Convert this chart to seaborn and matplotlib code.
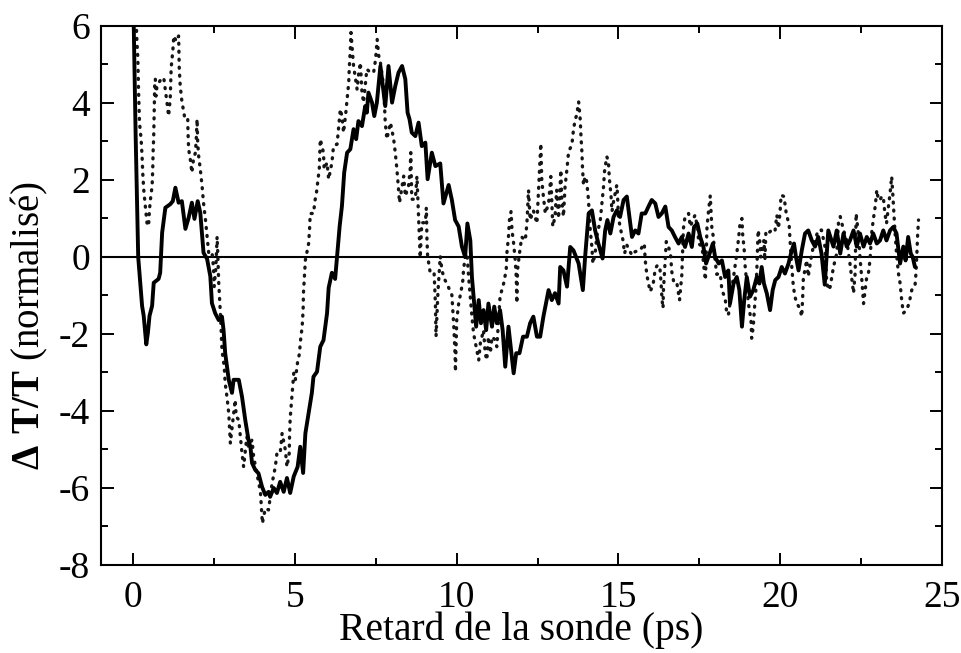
import matplotlib
matplotlib.use("Agg")
import matplotlib.pyplot as plt
import numpy as np
import pandas as pd
import seaborn as sns
from matplotlib.ticker import MultipleLocator

# Pump-probe transmission change, solid trace (delay in ps, normalised dT/T)
solid_t = [0.00, 0.07, 0.15, 0.27, 0.32, 0.40, 0.45, 0.50, 0.58, 0.63, 0.78, 0.83, 0.89, 0.99,
           1.14, 1.22, 1.30, 1.40, 1.50, 1.61, 1.71, 1.81, 1.89, 1.99, 2.07, 2.17, 2.28, 2.38,
           2.43, 2.53, 2.64, 2.74, 2.79, 2.84, 2.95, 3.05, 3.10, 3.26, 3.36, 3.46, 3.56, 3.62,
           3.67, 3.77, 3.87, 3.98, 4.08, 4.18, 4.23, 4.34, 4.44, 4.54, 4.65, 4.75, 4.85, 4.96,
           5.08, 5.16, 5.25, 5.32, 5.42, 5.52, 5.57, 5.68, 5.78, 5.88, 5.99, 6.04, 6.14, 6.24,
           6.30, 6.38, 6.45, 6.52, 6.61, 6.71, 6.81, 6.89, 6.96, 7.07, 7.17, 7.22, 7.27, 7.38,
           7.45, 7.53, 7.64, 7.74, 7.79, 7.89, 8.00, 8.10, 8.20, 8.31, 8.41, 8.48, 8.54, 8.61,
           8.72, 8.82, 8.92, 9.03, 9.10, 9.23, 9.34, 9.49, 9.59, 9.75, 9.85, 9.95, 10.06, 10.16,
           10.26, 10.33, 10.42, 10.47, 10.54, 10.60, 10.68, 10.75, 10.83, 10.91, 10.98, 11.09,
           11.16, 11.24, 11.34, 11.42, 11.50, 11.60, 11.68, 11.76, 11.84, 11.94, 12.05, 12.17,
           12.27, 12.37, 12.48, 12.58, 12.68, 12.84, 12.94, 13.04, 13.15, 13.20, 13.30, 13.41,
           13.51, 13.61, 13.77, 13.90, 13.97, 14.08, 14.18, 14.28, 14.38, 14.51, 14.59, 14.66,
           14.75, 14.85, 14.95, 15.05, 15.16, 15.26, 15.34, 15.42, 15.52, 15.62, 15.72, 15.83,
           15.93, 16.03, 16.14, 16.24, 16.34, 16.45, 16.55, 16.65, 16.75, 16.86, 16.96, 17.06,
           17.17, 17.27, 17.34, 17.44, 17.53, 17.63, 17.71, 17.82, 17.92, 17.99, 18.10, 18.20,
           18.30, 18.40, 18.45, 18.56, 18.66, 18.74, 18.82, 18.89, 18.97, 19.07, 19.17, 19.28,
           19.36, 19.43, 19.50, 19.59, 19.69, 19.77, 19.85, 19.95, 20.05, 20.15, 20.26, 20.36,
           20.43, 20.49, 20.57, 20.67, 20.77, 20.87, 20.98, 21.08, 21.18, 21.28, 21.38, 21.49,
           21.65, 21.75, 21.86, 21.96, 22.06, 22.16, 22.27, 22.37, 22.47, 22.58, 22.68, 22.78,
           22.88, 22.99, 23.09, 23.19, 23.29, 23.40, 23.50, 23.60, 23.71, 23.81, 23.88, 23.96,
           24.04, 24.10, 24.17]
solid_v = [6.60, 3.20, 0.00, -1.27, -1.53, -2.27, -1.97, -1.53, -1.27, -0.67, -0.57, -0.41, 0.63, 1.28,
           1.37, 1.45, 1.80, 1.41, 1.45, 0.73, 1.02, 1.41, 0.99, 1.45, 1.15, 0.11, -0.05, -0.50,
           -1.20, -1.46, -1.64, -1.55, -1.90, -2.50, -3.19, -3.53, -3.19, -3.19, -3.63, -4.23, -4.75, -4.93,
           -5.35, -5.53, -5.62, -5.97, -6.18, -6.10, -6.23, -6.00, -6.13, -5.84, -6.10, -5.74, -6.13, -5.70,
           -5.45, -4.93, -5.61, -4.58, -4.06, -3.53, -3.11, -2.98, -2.33, -2.16, -1.46, -0.80, -0.41, -0.57,
           0.03, 0.80, 1.32, 2.19, 2.71, 2.80, 3.32, 3.06, 3.53, 3.40, 3.92, 3.75, 4.27, 4.01,
           3.66, 4.01, 4.96, 4.27, 3.92, 4.96, 4.01, 4.44, 4.79, 4.96, 4.62, 3.75, 3.58, 3.23,
           3.14, 3.49, 2.88, 2.97, 2.02, 2.71, 2.36, 2.43, 1.39, 1.87, 1.48, 0.96, 0.79, 0.27,
           0.00, 0.87, 0.43, -0.52, -1.21, -1.81, -1.12, -1.72, -1.38, -1.90, -1.21, -1.81,
           -1.29, -1.72, -1.38, -1.90, -2.85, -1.81, -2.42, -3.02, -2.50, -2.50, -2.07, -2.07,
           -1.72, -1.55, -2.07, -2.07, -1.55, -0.86, -1.12, -0.94, -1.21, -0.26, -0.35, -0.77,
           0.26, 0.17, -0.17, -0.86, 0.00, 1.13, 1.21, 0.69, 0.35, -0.04, 0.69, 0.96,
           0.61, 1.04, 1.21, 1.04, 1.48, 1.57, 1.04, 0.52, 0.69, 0.61, 1.13, 1.13,
           1.31, 1.48, 1.39, 1.04, 1.13, 1.31, 0.78, 0.69, 0.52, 0.35, 0.52, 0.26,
           0.61, 0.26, 0.78, 0.87, 0.52, 0.26, -0.17, 0.09, 0.35, 0.00, -0.17, -0.09,
           -0.52, -0.35, -1.21, -0.69, -0.52, -0.86, -1.81, -1.12, -0.52, -1.03, -0.86, -0.52,
           -0.69, -0.26, -0.69, -0.95, -1.38, -0.86, -0.60, -0.52, -0.26, -0.43, -0.17, 0.17,
           0.35, 0.00, -0.35, 0.17, 0.61, 0.69, 0.43, 0.27, 0.52, 0.09, -0.72, 0.69,
           0.27, 0.69, 0.09, 0.61, 0.27, 0.43, 0.69, 0.27, 0.61, 0.27, 0.52, 0.35,
           0.61, 0.35, 0.43, 0.69, 0.43, 0.69, 0.78, 0.61, -0.17, 0.27, -0.09, 0.52,
           0.09, 0.00, -0.26]

# Second trace, drawn dotted
dotted_t = [0.08, 0.11, 0.14, 0.16, 0.19, 0.24, 0.27, 0.29, 0.32, 0.37, 0.42, 0.47, 0.50, 0.53,
            0.58, 0.60, 0.61, 0.63, 0.64, 0.65, 0.66, 0.68, 0.70, 0.73, 0.84, 0.94, 1.04, 1.09,
            1.14, 1.17, 1.22, 1.25, 1.33, 1.40, 1.42, 1.45, 1.50, 1.58, 1.68, 1.69, 1.71, 1.76,
            1.81, 1.86, 1.92, 1.95, 1.97, 1.99, 2.02, 2.07, 2.12, 2.17, 2.23, 2.28, 2.33, 2.43,
            2.48, 2.50, 2.55, 2.59, 2.61, 2.64, 2.67, 2.70, 2.74, 2.81, 2.84, 2.90, 2.95, 3.00,
            3.05, 3.15, 3.18, 3.26, 3.31, 3.36, 3.41, 3.51, 3.56, 3.67, 3.72, 3.82, 3.93, 3.96,
            3.99, 4.08, 4.18, 4.29, 4.39, 4.44, 4.54, 4.60, 4.70, 4.75, 4.82, 4.83, 4.85, 4.91,
            4.96, 5.01, 5.08, 5.14, 5.16, 5.22, 5.25, 5.26, 5.29, 5.32, 5.42, 5.45, 5.47, 5.57,
            5.62, 5.66, 5.75, 5.78, 5.88, 5.90, 5.99, 6.04, 6.14, 6.19, 6.30, 6.35, 6.40, 6.45,
            6.50, 6.56, 6.61, 6.66, 6.68, 6.71, 6.73, 6.81, 6.92, 6.97, 7.02, 7.07, 7.12, 7.22,
            7.33, 7.43, 7.49, 7.54, 7.59, 7.64, 7.74, 7.79, 7.84, 7.95, 8.05, 8.10, 8.15, 8.20,
            8.23, 8.31, 8.36, 8.41, 8.51, 8.56, 8.58, 8.61, 8.72, 8.77, 8.82, 8.85, 8.87, 8.92,
            9.03, 9.06, 9.08, 9.10, 9.18, 9.30, 9.34, 9.36, 9.42, 9.49, 9.54, 9.60, 9.70, 9.85,
            9.88, 9.91, 9.93, 9.95, 9.96, 10.00, 10.06, 10.14, 10.19, 10.21, 10.26, 10.32, 10.36,
            10.42, 10.47, 10.52, 10.62, 10.68, 10.73, 10.83, 10.88, 10.93, 10.98, 11.04, 11.09,
            11.19, 11.24, 11.34, 11.45, 11.53, 11.55, 11.60, 11.63, 11.68, 11.71, 11.76, 11.81,
            11.84, 11.86, 11.88, 11.94, 12.01, 12.12, 12.17, 12.22, 12.27, 12.37, 12.48, 12.53,
            12.58, 12.60, 12.63, 12.68, 12.74, 12.84, 12.91, 12.97, 13.04, 13.09, 13.15, 13.20,
            13.22, 13.25, 13.30, 13.35, 13.41, 13.46, 13.56, 13.61, 13.66, 13.71, 13.77, 13.82,
            13.84, 13.87, 13.89, 13.92, 13.97, 14.02, 14.07, 14.13, 14.18, 14.21, 14.28, 14.33,
            14.44, 14.49, 14.54, 14.57, 14.64, 14.69, 14.72, 14.77, 14.80, 14.85, 14.95, 14.97,
            15.00, 15.05, 15.14, 15.19, 15.26, 15.42, 15.52, 15.67, 15.80, 15.83, 15.88, 15.98,
            16.07, 16.14, 16.21, 16.28, 16.32, 16.35, 16.38, 16.39, 16.42, 16.48, 16.55, 16.61,
            16.65, 16.72, 16.81, 16.89, 16.94, 16.96, 17.01, 17.06, 17.17, 17.22, 17.37, 17.46,
            17.48, 17.59, 17.63, 17.69, 17.74, 17.79, 17.84, 17.89, 17.94, 17.99, 18.04, 18.15,
            18.20, 18.30, 18.35, 18.40, 18.45, 18.50, 18.58, 18.66, 18.71, 18.76, 18.82, 18.84,
            18.89, 18.92, 18.97, 19.02, 19.10, 19.12, 19.17, 19.20, 19.25, 19.28, 19.30, 19.32,
            19.38, 19.40, 19.45, 19.50, 19.53, 19.56, 19.63, 19.74, 19.84, 19.90, 19.95, 20.00,
            20.03, 20.12, 20.19, 20.28, 20.31, 20.36, 20.41, 20.46, 20.51, 20.61, 20.67, 20.70,
            20.72, 20.77, 20.82, 20.87, 20.98, 21.08, 21.18, 21.28, 21.39, 21.44, 21.50, 21.55,
            21.60, 21.65, 21.75, 21.81, 21.86, 21.96, 22.06, 22.16, 22.22, 22.27, 22.32, 22.35,
            22.42, 22.47, 22.52, 22.58, 22.68, 22.73, 22.78, 22.83, 22.88, 22.94, 22.99, 23.04,
            23.09, 23.14, 23.19, 23.24, 23.29, 23.35, 23.40, 23.45, 23.48, 23.55, 23.60, 23.66,
            23.71, 23.76, 23.81, 23.91, 23.99, 24.07, 24.17, 24.20, 24.23, 24.25, 24.28]
dotted_v = [6.30, 5.61, 5.13, 4.35, 3.49, 3.06, 2.62, 2.19, 1.76, 1.32, 0.89, 0.80, 1.24, 1.50,
            1.84, 2.28, 2.71, 3.14, 3.58, 4.01, 4.44, 4.62, 4.18, 4.44, 4.60, 4.66, 4.01, 3.66,
            4.10, 4.92, 5.35, 5.74, 5.60, 5.74, 4.88, 4.44, 4.05, 3.66, 3.66, 3.23, 2.80, 2.54,
            2.19, 2.54, 2.71, 3.14, 3.58, 2.97, 2.62, 2.28, 1.89, 1.41, 0.97, 0.54, 0.11, 0.14,
            -0.29, -0.77, -0.30, 0.53, 0.10, -0.67, -1.16, -1.60, -2.42, -2.85, -3.28, -3.67, -4.06, -4.84,
            -4.45, -3.71, -4.15, -4.23, -4.67, -5.10, -5.45, -4.67, -4.93, -4.75, -5.19, -5.62, -6.10, -6.53,
            -6.92, -6.53, -6.57, -5.88, -5.45, -5.10, -5.10, -4.58, -5.01, -5.45, -5.10, -4.67, -4.19, -3.54,
            -3.02, -3.19, -2.72, -2.50, -2.24, -1.81, -1.38, -0.94, -0.51, -0.08, 0.35, 0.74, 1.13, 1.13,
            1.48, 1.65, 2.30, 3.06, 2.71, 2.28, 2.45, 2.02, 2.45, 2.88, 2.93, 3.40, 3.84, 3.66,
            3.23, 3.66, 4.10, 4.53, 4.96, 5.39, 5.83, 4.96, 4.35, 4.79, 5.05, 4.27, 4.01, 4.88,
            4.79, 4.79, 5.13, 5.65, 5.22, 5.05, 4.44, 3.49, 3.06, 3.49, 3.06, 2.71, 2.28, 1.76,
            1.41, 1.84, 2.10, 1.58, 1.84, 2.28, 2.71, 1.50, 1.50, 2.10, 1.06, 0.37, -0.02, 0.89,
            0.89, 1.28, 0.45, 0.02, -0.41, -0.41, -1.20, -2.07, -0.90, 0.02, -0.32, -0.54, -0.70, -0.99,
            -1.38, -1.81, -2.16, -2.59, -2.98, -1.64, -1.21, -0.86, -0.60, -0.34, 0.00, 0.09, -0.43,
            -1.03, -1.55, -1.98, -2.42, -2.68, -2.24, -1.90, -2.50, -2.68, -2.07, -2.50, -2.07,
            -2.16, -2.33, -1.03, -0.69, -0.34, 0.09, 0.52, 0.96, 1.18, 0.69, 0.35, -0.09,
            -0.51, -1.20, -0.34, 0.09, 0.52, 0.43, 0.87, 1.74, 0.96, 1.21, 0.87, 1.74,
            2.60, 2.95, 2.00, 1.57, 1.13, 1.39, 2.09, 0.79, 1.05, 1.74, 1.00, 1.87,
            2.26, 1.48, 1.05, 1.83, 2.30, 2.74, 2.91, 3.30, 3.56, 3.69, 4.03, 3.56,
            3.17, 2.74, 2.30, 1.87, 2.09, 1.96, 1.52, 0.69, 0.26, -0.17, 0.09, 0.53,
            0.96, 1.39, 1.83, 2.22, 2.61, 2.48, 2.04, 1.61, 1.18, 1.44, 1.87, 1.65,
            1.05, 0.79, 0.44, 0.09, 0.31, 0.04, 0.14, 0.17, 0.35, -0.09, -0.47, -0.90,
            -0.73, -0.30, -0.21, -0.26, -0.69, -1.12, -1.33, -0.90, -0.47, 0.40, 0.26, 0.09,
            -0.38, -0.69, -0.69, -1.12, -0.64, -0.47, 0.74, 1.05, 1.13, 0.79, 1.09, 0.70,
            0.35, 0.26, -0.17, -0.60, 0.79, 1.22, 1.59, 0.75, 0.50, -0.10, -0.45, -0.43,
            -0.86, -1.07, -1.46, -1.51, -1.21, -0.86, -0.40, 0.09, 0.44, 0.87, 1.00, 0.61,
            0.18, -0.25, -0.69, -1.21, -1.64, -2.11, -1.81, -1.42, -0.86, -0.34, 0.18, 0.70,
            0.35, 0.00, 0.18, 0.44, -0.09, 0.66, 0.61, 0.70, 0.66, 1.09, 0.74, 1.18,
            1.61, 1.57, 1.13, 0.83, 0.40, -0.25, -0.77, -1.03, -1.20, -1.33, -1.55, -1.00,
            -0.51, -0.34, -0.08, -0.51, 0.09, 0.44, 0.70, 0.70, 0.26, -0.65, -0.86, -0.77,
            -0.51, -0.26, 0.09, 0.96, 1.05, 0.70, 0.44, -0.17, -0.60, -0.94, -0.43, 1.13,
            0.61, 0.00, -0.51, -1.21, -0.51, -0.43, -0.08, 0.61, 0.96, 1.31, 1.74, 1.48,
            1.48, 1.57, 1.57, 1.13, 0.87, 1.31, 1.65, 2.09, 1.70, 0.69, 0.09, -0.43,
            -0.68, -1.12, -1.46, -1.38, -1.20, -0.86, -0.77, -0.43, 0.09, 0.53, 0.96]

x_ticks = [0, 5, 10, 15, 20, 25]
y_ticks = [-8, -6, -4, -2, 0, 2, 4, 6]

sns.set_theme(style="ticks")
plt.rcParams["font.family"] = ["Liberation Serif", "DejaVu Serif"]
plt.rcParams["mathtext.fontset"] = "custom"
plt.rcParams["mathtext.rm"] = "Liberation Serif"
plt.rcParams["mathtext.bf"] = "Liberation Serif:bold"
plt.rcParams["axes.unicode_minus"] = False

solid_df = pd.DataFrame({"t": solid_t, "v": solid_v})
dotted_df = pd.DataFrame({"t": dotted_t, "v": dotted_v})

fig = plt.figure(figsize=(9.62, 6.53), dpi=100)
ax = fig.add_axes([0.105, 0.1348, 0.874, 0.8254])

ax.axhline(0, color="black", lw=1.5, zorder=1)
sns.lineplot(data=dotted_df, x="t", y="v", ax=ax, color="#151515", lw=2.4,
             estimator=None, sort=False, linestyle=(0, (0.3, 2.1)),
             dash_capstyle="round", zorder=2)
sns.lineplot(data=solid_df, x="t", y="v", ax=ax, color="black", lw=2.8,
             estimator=None, sort=False, solid_joinstyle="round", zorder=3)

ax.set_xlim(-1, 25)
ax.set_ylim(-8, 6)
ax.set_xticks(x_ticks)
ax.set_yticks(y_ticks)
ax.xaxis.set_minor_locator(MultipleLocator(2.5))
ax.yaxis.set_minor_locator(MultipleLocator(1))
ax.tick_params(which="both", direction="in", top=True, right=True, width=1.4,
               color="black", labelsize=27, labelcolor="black")
ax.tick_params(which="major", length=9)
ax.tick_params(which="minor", length=5)
ax.tick_params(axis="x", which="major", pad=11)
ax.tick_params(axis="y", which="major", pad=8)
for sp in ax.spines.values():
    sp.set_linewidth(1.5)
    sp.set_color("black")

ax.set_xlabel("Retard de la sonde (ps)", fontsize=28.5, color="black", labelpad=-2)
ax.set_ylabel(r"$\mathbf{\Delta\ T/T}$ (normalisé)", fontsize=28, color="black")
ax.yaxis.set_label_coords(-0.061, 0.445)

fig.savefig("out.png", dpi=100, facecolor="white")
